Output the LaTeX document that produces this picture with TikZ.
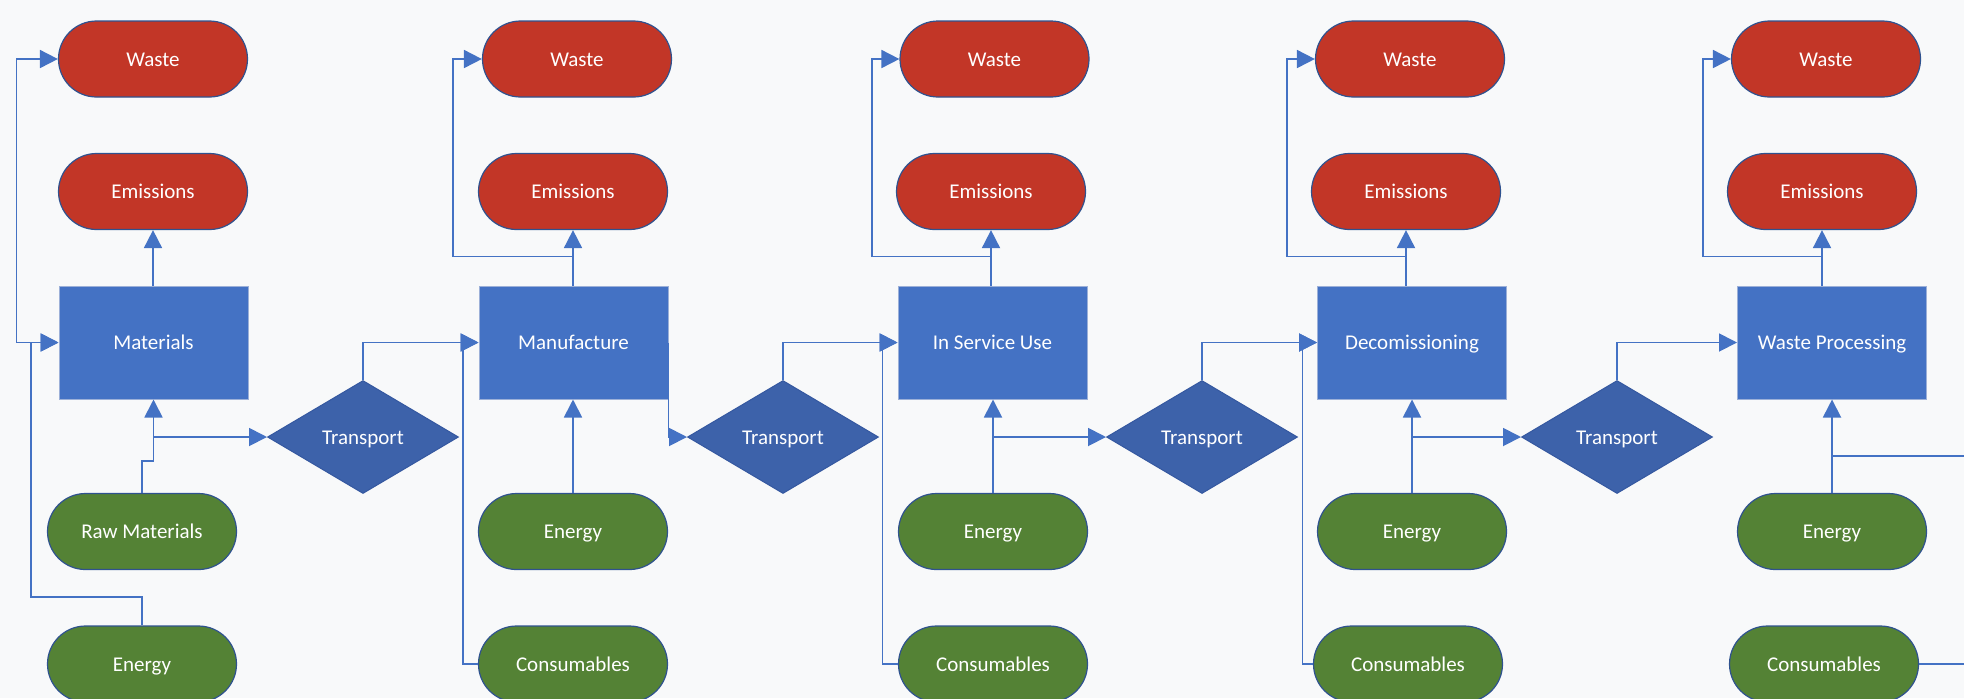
\documentclass[tikz,border=0pt]{standalone}
\usepackage{fontspec}
\setmainfont{Carlito}
\usetikzlibrary{arrows.meta,shapes.geometric}
\definecolor{bgc}{HTML}{F8F9FA}
\definecolor{redf}{HTML}{C23627}
\definecolor{pillb}{HTML}{2F528F}
\definecolor{boxf}{HTML}{4472C4}
\definecolor{boxb}{HTML}{9CB0D8}
\definecolor{diaf}{HTML}{3D62AA}
\definecolor{diab}{HTML}{3558A0}
\definecolor{greenf}{HTML}{548235}
\definecolor{connc}{HTML}{4472C4}
\begin{document}
\begin{tikzpicture}[x=0.5pt,y=-0.5pt,
  lbl/.style={text=white, font=\fontsize{10.5}{12}\selectfont, inner sep=0pt, text height=1.7ex, text depth=0.2ex},
  pillred/.style={lbl, rectangle, rounded corners=19pt, minimum width=94.5pt, minimum height=38pt, fill=redf, draw=pillb, line width=0.6pt},
  pillgreen/.style={lbl, rectangle, rounded corners=19pt, minimum width=94.5pt, minimum height=38pt, fill=greenf, draw=pillb, line width=0.6pt},
  stagebox/.style={lbl, rectangle, minimum width=94.5pt, minimum height=56.5pt, fill=boxf, draw=boxb, line width=0.5pt},
  transp/.style={lbl, diamond, aspect=1.69, minimum width=95.5pt, minimum height=56.5pt, fill=diaf, draw=diab, line width=0.5pt},
  conn/.style={draw=connc, line width=0.9pt},
  arr/.style={conn, -{Triangle[length=9pt,width=9pt]}},
  arrboth/.style={conn, {Triangle[length=9pt,width=9pt]}-{Triangle[length=9pt,width=9pt]}},
]
\useasboundingbox (0,0) rectangle (1964,698);
\fill[bgc] (0,0) rectangle (1964,698);

% Stage 1
\node[pillred] (W1) at (153,59) {Waste};
\node[pillred] (E1) at (153,191.5) {Emissions};
\node[stagebox] (B1) at (153.5,342.5) {Materials};
\node[pillgreen] (RM) at (142,531.5) {Raw Materials};
\node[pillgreen] (EN1) at (142,664) {Energy};
\node[transp] (T1) at (363,437) {Transport};

% Stage 2
\node[pillred] (W2) at (577,59) {Waste};
\node[pillred] (E2) at (573,191.5) {Emissions};
\node[stagebox] (B2) at (573.5,342.5) {Manufacture};
\node[pillgreen] (EN2) at (573,531.5) {Energy};
\node[pillgreen] (C2) at (573,664) {Consumables};
\node[transp] (T2) at (783,437) {Transport};

% Stage 3
\node[pillred] (W3) at (994.5,59) {Waste};
\node[pillred] (E3) at (991,191.5) {Emissions};
\node[stagebox] (B3) at (992.5,342.5) {In Service Use};
\node[pillgreen] (EN3) at (993,531.5) {Energy};
\node[pillgreen] (C3) at (993,664) {Consumables};
\node[transp] (T3) at (1202,437) {Transport};

% Stage 4
\node[pillred] (W4) at (1410,59) {Waste};
\node[pillred] (E4) at (1406,191.5) {Emissions};
\node[stagebox] (B4) at (1412,342.5) {Decomissioning};
\node[pillgreen] (EN4) at (1412,531.5) {Energy};
\node[pillgreen] (C4) at (1408,664) {Consumables};
\node[transp] (T4) at (1617,437) {Transport};

% Stage 5
\node[pillred] (W5) at (1826,59) {Waste};
\node[pillred] (E5) at (1822,191.5) {Emissions};
\node[stagebox] (B5) at (1832,342.5) {Waste Processing};
\node[pillgreen] (EN5) at (1832,531.5) {Energy};
\node[pillgreen] (C5) at (1824,664) {Consumables};
\coordinate (R1) at (1964,456);
\coordinate (R2) at (1964,664);

% Stage 1 connectors
\draw[arrboth] (B1.west) -- ++(-42,0) |- (W1.west);
\draw[arr] (B1.north -| E1.south) -- (E1.south);
\draw[arr] (RM.north) -- (142,461) -| (B1.south);
\draw[arr] (B1.south |- T1.west) -- (T1.west);
\draw[arr] (EN1.north) |- (31,597) |- (B1.west);
\draw[arr] (T1.north) |- (B2.west);

% Stage 2 connectors
\draw[arr] (B2.north -| E2.south) -- (E2.south);
\draw[arr] (B2.north -| E2.south) -- ++(0,-29) -- ++(-120,0) |- (W2.west);
\draw[arr] (EN2.north) -- (B2.south -| EN2.north);
\draw[arr] (C2.west) -- ++(-15,0) |- (B2.west);
\draw[arr] (B2.east) |- (T2.west);
\draw[arr] (T2.north) |- (B3.west);

% Stage 3 connectors
\draw[arr] (B3.north -| E3.south) -- (E3.south);
\draw[arr] (B3.north -| E3.south) -- ++(0,-29) -- ++(-119,0) |- (W3.west);
\draw[arr] (EN3.north) -- (B3.south -| EN3.north);
\draw[arr] (EN3.north |- T3.west) -- (T3.west);
\draw[arr] (C3.west) -- ++(-15.5,0) |- (B3.west);
\draw[arr] (T3.north) |- (B4.west);

% Stage 4 connectors
\draw[arr] (B4.north -| E4.south) -- (E4.south);
\draw[arr] (B4.north -| E4.south) -- ++(0,-29) -- ++(-119,0) |- (W4.west);
\draw[arr] (EN4.north) -- (B4.south -| EN4.north);
\draw[arr] (EN4.north |- T4.west) -- (T4.west);
\draw[arr] (C4.west) -- ++(-10.5,0) |- (B4.west);
\draw[arr] (T4.north) |- (B5.west);

% Stage 5 connectors
\draw[arr] (B5.north -| E5.south) -- (E5.south);
\draw[arr] (B5.north -| E5.south) -- ++(0,-29) -- ++(-119,0) |- (W5.west);
\draw[arr] (EN5.north) -- (B5.south -| EN5.north);
\draw[conn] (EN5.north |- R1) -- (R1);
\draw[conn] (C5.east) -- (R2);
\end{tikzpicture}
\end{document}
